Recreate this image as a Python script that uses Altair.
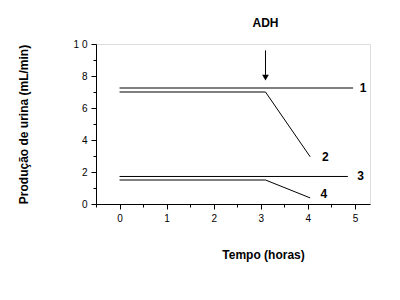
import altair as alt
import pandas as pd

# series: x (hours), y (mL/min)
series_names = ["1", "1", "2", "2", "2", "3", "3", "4", "4", "4"]
series_x = [0, 4.96, 0, 3.1, 4.05, 0, 4.85, 0, 3.1, 4.05]
series_y = [7.25, 7.25, 7.0, 7.0, 2.95, 1.72, 1.72, 1.5, 1.5, 0.38]

label_text = ["1", "2", "3", "4"]
label_x = [5.1, 4.3, 5.05, 4.27]
label_y = [7.25, 2.95, 1.72, 0.6]

adh_x = [3.1]
adh_top = [9.6]
adh_tip = [7.9]
adh_label_y = [11.3]

df = pd.DataFrame({"s": series_names, "x": series_x, "y": series_y})
lab = pd.DataFrame({"t": label_text, "x": label_x, "y": label_y})
adh = pd.DataFrame({"x": adh_x, "y1": adh_top, "y2": adh_tip, "ly": adh_label_y, "t": ["ADH"]})

xs = alt.Scale(domain=[-0.5, 5.32], nice=False, zero=False)
ys = alt.Scale(domain=[0, 10], nice=False)

FONT = "Liberation Sans"

xaxis = alt.Axis(
    values=[-0.5, 0, 0.5, 1, 1.5, 2, 2.5, 3, 3.5, 4, 4.5, 5],
    labelExpr="datum.value % 1 == 0 ? format(datum.value, 'd') : ''",
    tickSize={"condition": {"test": "datum.value % 1 == 0", "value": 5}, "value": 3},
    labelOverlap=False, labelBound=False, labelFlush=False,
    grid=False, domainColor="black", tickColor="black", labelColor="black",
    labelFont=FONT, labelFontSize=10, labelPadding=4,
    title="Tempo (horas)", titleFont=FONT, titleFontSize=12, titleFontWeight="bold",
    titleX=167, titleY=45, titleColor="black",
)
yaxis = alt.Axis(
    values=list(range(0, 11)),
    labelExpr="datum.value % 2 == 0 ? (datum.value == 10 ? '1 0' : format(datum.value, 'd')) : ''",
    tickSize={"condition": {"test": "datum.value % 2 == 0", "value": 5}, "value": 3},
    labelOverlap=False, labelBound=False, labelFlush=False,
    grid=False, domainColor="black", tickColor="black", labelColor="black",
    labelFont=FONT, labelFontSize=10, labelPadding=4,
    title="Produção de urina (mL/min)", titleFont=FONT, titleFontSize=12,
    titleFontWeight="bold", titleX=-66, titleY=80, titleColor="black",
)

X = lambda f: alt.X(f, type="quantitative", scale=xs, axis=xaxis)
Y = lambda f: alt.Y(f, type="quantitative", scale=ys, axis=yaxis)

lines = alt.Chart(df).mark_line(color="black", strokeWidth=1).encode(
    x=X("x"), y=Y("y"), detail="s:N",
)

labels = alt.Chart(lab).mark_text(
    font=FONT, fontSize=12, fontWeight="bold", color="black", align="left", baseline="middle"
).encode(x=X("x"), y=Y("y"), text="t:N")

arrow = alt.Chart(adh).mark_rule(color="black", strokeWidth=1).encode(
    x=X("x"), y=Y("y1"), y2="y2:Q"
)
head = alt.Chart(adh).mark_point(
    shape="triangle-down", filled=True, color="black", size=45, opacity=1
).encode(x=X("x"), y=Y("y2"))
adh_text = alt.Chart(adh).mark_text(
    font=FONT, fontSize=12, fontWeight="bold", color="black", align="center", baseline="middle"
).encode(x=X("x"), y=Y("ly"), text="t:N")

chart = alt.layer(lines, labels, arrow, head, adh_text).properties(
    width=274, height=160,
    autosize=alt.AutoSizeParams(type="none"),
    padding={"left": 96, "top": 44, "right": 30, "bottom": 96},
).configure_view(strokeWidth=0).configure(background="white")

chart.save("out.html", embed_options={"renderer": "svg", "actions": False})
